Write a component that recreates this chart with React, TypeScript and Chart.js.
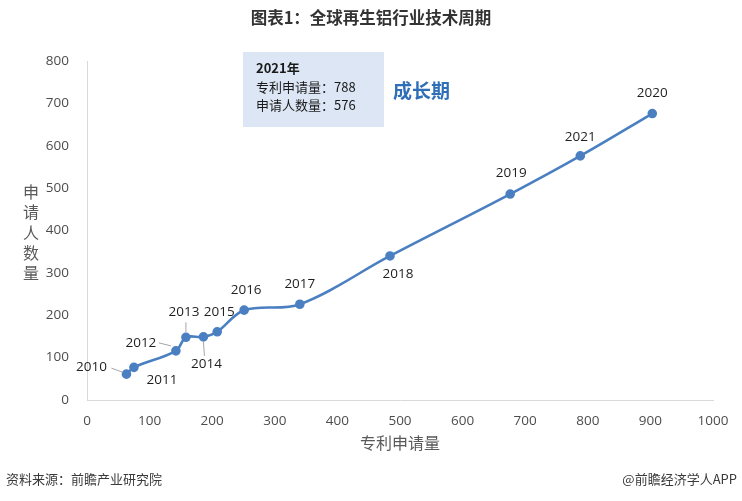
import React, { useEffect, useRef } from 'react';
import { Chart, registerables } from 'chart.js';

Chart.register(...registerables);

// ---- data ----
const years = ['2010', '2011', '2012', '2013', '2014', '2015', '2016', '2017', '2018', '2019', '2021', '2020'];
const patentApps = [63, 75, 142, 158, 186, 208, 251, 340, 484, 676, 788, 903];
const applicants = [61, 77, 116, 148, 149, 161, 212, 226, 340, 486, 576, 676];
const xRange = [0, 1000];
const yRange = [0, 800];
const tickStep = 100;
const titleText = '图表1：全球再生铝行业技术周期';
const xTitle = '专利申请量';
const yTitle = '申请人数量';
const noteLines = ['2021年', '专利申请量：788', '申请人数量：576'];
const stageText = '成长期';
const sourceText = '资料来源：前瞻产业研究院';
const brandText = '@前瞻经济学人APP';

// ---- label placement (style only): offset from point, optional leader line ----
const labelStyle: { dx: number; dy: number; leader?: [number, number, number, number] }[] = [
  { dx: -35, dy: -7, leader: [-15, -6, -4, -2] },
  { dx: 28, dy: 13 },
  { dx: -35, dy: -8, leader: [-17, -8, -5, -5] },
  { dx: -2, dy: -25, leader: [0, -15, 0, -5] },
  { dx: 3, dy: 27, leader: [1, 19, 0, 5] },
  { dx: 2, dy: -20 },
  { dx: 2, dy: -20 },
  { dx: 0, dy: -20 },
  { dx: 8, dy: 18 },
  { dx: 1, dy: -21 },
  { dx: 0, dy: -19 },
  { dx: 0, dy: -20 },
];

const CJK = '"Noto Sans CJK SC", "Noto Sans", sans-serif';
const NUM = '"Open Sans", "Noto Sans", sans-serif';
const LINE = '#4a7fc1';

const overlay = {
  id: 'overlay',
  afterDatasetsDraw(chart: any) {
    const ctx = chart.ctx as CanvasRenderingContext2D;
    const meta = chart.getDatasetMeta(0);
    ctx.save();
    ctx.font = `13.5px ${NUM}`;
    ctx.fillStyle = '#1f1f1f';
    ctx.textAlign = 'center';
    ctx.textBaseline = 'middle';
    meta.data.forEach((pt: any, i: number) => {
      const s = labelStyle[i];
      ctx.fillText(years[i], pt.x + s.dx, pt.y + s.dy);
      if (s.leader) {
        ctx.strokeStyle = '#a6a6a6';
        ctx.lineWidth = 1;
        ctx.beginPath();
        ctx.moveTo(pt.x + s.leader[0], pt.y + s.leader[1]);
        ctx.lineTo(pt.x + s.leader[2], pt.y + s.leader[3]);
        ctx.stroke();
      }
    });
    ctx.restore();
  },
  afterDraw(chart: any) {
    const ctx = chart.ctx as CanvasRenderingContext2D;
    const area = chart.chartArea;
    ctx.save();
    // title
    ctx.fillStyle = '#333333';
    ctx.font = `bold 16.5px ${CJK}`;
    ctx.textAlign = 'center';
    ctx.textBaseline = 'middle';
    ctx.fillText(titleText, 371, 18);
    // x title
    ctx.fillStyle = '#595959';
    ctx.font = `16px ${CJK}`;
    ctx.fillText(xTitle, (area.left + area.right) / 2, 443);
    // y title stacked
    const chars = Array.from(yTitle);
    chars.forEach((c, i) => ctx.fillText(c, 31, 192 + i * 20.3));
    // note box
    ctx.fillStyle = '#dce6f4';
    ctx.fillRect(243, 52, 141, 75);
    ctx.fillStyle = '#1a1a1a';
    ctx.textAlign = 'left';
    ctx.font = `bold 13px ${CJK}`;
    ctx.fillText(noteLines[0], 256, 68);
    ctx.font = `13px ${CJK}`;
    ctx.fillText(noteLines[1], 256, 87);
    ctx.fillText(noteLines[2], 256, 105);
    // stage
    ctx.fillStyle = '#2e6fb7';
    ctx.font = `bold 19px ${CJK}`;
    ctx.fillText(stageText, 393, 91);
    // footer
    ctx.fillStyle = '#3a3a3a';
    ctx.font = `13px ${CJK}`;
    ctx.fillText(sourceText, 6, 479);
    ctx.textAlign = 'right';
    ctx.fillText(brandText, 737, 479);
    ctx.restore();
  },
};

export default function App() {
  const ref = useRef<HTMLCanvasElement>(null);
  useEffect(() => {
    if (!ref.current) return;
    const points = patentApps.map((x, i) => ({ x, y: applicants[i] }));
    const chart = new Chart(ref.current, {
      type: 'scatter',
      data: {
        datasets: [
          {
            data: points,
            showLine: true,
            tension: 0.35,
            borderColor: LINE,
            borderWidth: 2.6,
            backgroundColor: LINE,
            pointBackgroundColor: LINE,
            pointBorderColor: LINE,
            pointRadius: 3.5,
          },
        ],
      },
      options: {
        animation: false,
        responsive: false,
        devicePixelRatio: 1,
        layout: { padding: { left: 0, right: 29, top: 61, bottom: 0 } },
        plugins: { legend: { display: false }, tooltip: { enabled: false }, title: { display: false } },
        scales: {
          x: {
            type: 'linear',
            min: xRange[0],
            max: xRange[1],
            grid: { display: false, drawTicks: false },
            border: { display: true, color: '#d9d9d9', width: 1 },
            ticks: {
              stepSize: tickStep,
              padding: 13,
              color: '#4d4d4d',
              font: { family: NUM, size: 13.5 },
              maxRotation: 0,
              callback: (v: any) => String(v),
            },
            afterFit: (s: any) => { s.height = 101; },
          },
          y: {
            type: 'linear',
            min: yRange[0],
            max: yRange[1],
            grid: { display: false, drawTicks: false },
            border: { display: true, color: '#d9d9d9', width: 1 },
            ticks: {
              stepSize: tickStep,
              padding: 18,
              color: '#4d4d4d',
              font: { family: NUM, size: 13.5 },
              callback: (v: any) => String(v),
            },
            afterFit: (s: any) => { s.width = 87; },
          },
        },
      },
      plugins: [overlay],
    });
    return () => chart.destroy();
  }, []);
  return (
    <div style={{ position: 'absolute', left: 0, top: 0, width: 742, height: 501, background: '#fff' }}>
      <canvas ref={ref} width={742} height={501} style={{ display: 'block' }} />
    </div>
  );
}
